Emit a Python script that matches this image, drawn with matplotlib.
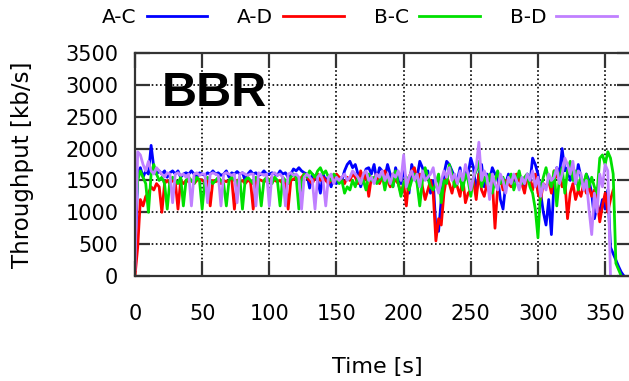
import numpy as np
import matplotlib
matplotlib.use('Agg')
import matplotlib.pyplot as plt

nan = np.nan

# time axis, one sample every 2 s
t = np.arange(0, 366, 2)

a_c = [200, 1600, 1700, 1550, 1650, 1600, 2050, 1700, 1600, 1650,
       1600, 1650, 1550, 1620, 1650, 1600, 1650, 1550, 1600, 1620,
       1600, 1650, 1600, 1550, 1620, 1600, 1580, 1620, 1600, 1650,
       1600, 1620, 1580, 1600, 1650, 1550, 1620, 1600, 1640, 1600,
       1620, 1500, 1600, 1650, 1600, 1620, 1580, 1600, 1650, 1600,
       1600, 1620, 1600, 1580, 1650, 1600, 1620, 1550, 1600, 1680,
       1650, 1700, 1650, 1620, 1600, 1380, 1600, 1550, 1500, 1300,
       1600, 1500, 1550, 1400, 1550, 1450, 1550, 1500, 1650, 1750,
       1800, 1700, 1750, 1600, 1400, 1550, 1680, 1700, 1600, 1750,
       1500, 1700, 1650, 1550, 1750, 1600, 1400, 1700, 1550, 1450,
       1650, 1500, 1300, 1750, 1600, 1550, 1800, 1700, 1550, 1650,
       1300, 1500, 750, 700, 1200, 1600, 1800, 1750, 1650, 1550,
       1500, 1700, 1400, 1650, 1600, 1850, 1700, 1300, 1600, 1750,
       1400, 1600, 1500, 1700, 1600, 1550, 1200, 1050, 1450, 1600,
       1500, 1550, 1450, 1600, 1500, 1400, 1600, 1450, 1850, 1750,
       1600, 1300, 1000, 800, 1200, 650, 1500, 1700, 1600, 2000,
       1650, 1700, 1500, 1600, 1450, 1750, 1550, 1400, 1600, 1500,
       1300, 900, 1100, 1000, 1200, 1050, 1350, 450, 350, 250,
       150, 60, 0]

a_d = [0, 450, 1200, 1100, 1250, 1300, 1400, 1350, 1450, 1400,
       1000, 1450, 1500, 1450, 1500, 1480, 1050, 1500, 1450, 1500,
       1480, 1500, 1450, 1500, 1520, 1500, 1480, 1500, 1100, 1500,
       1480, 1500, 1450, 1500, 1480, 1500, 1520, 1050, 1500, 1480,
       1500, 1450, 1500, 1480, 1050, 1500, 1520, 1500, 1480, 1500,
       1500, 1550, 1500, 1480, 1500, 1450, 1500, 1050, 1500, 1520,
       1550, 1500, 1550, 1600, 1550, 1500, 1450, 1550, 1600, 1500,
       1550, 1500, 1450, 1500, 1550, 1600, 1550, 1500, 1450, 1550,
       1500, 1600, 1550, 1450, 1650, 1500, 1600, 1250, 1550, 1500,
       1600, 1450, 1550, 1650, 1500, 1400, 1600, 1500, 1450, 1300,
       1450, 1100, 1550, 1650, 1700, 1500, 1600, 1400, 1200, 1350,
       1500, 1300, 550, 900, 800, 1300, 1550, 1450, 1300, 1500,
       1400, 1250, 1550, 1150, 1300, 1350, 1500, 1200, 1600, 1350,
       1250, 1450, 1300, 1500, 750, 1400, 1550, 1350, 1500, 1450,
       1400, 1550, 1600, 1500, 1450, 1300, 1550, 1500, 1350, 1600,
       1300, 1200, 1450, 1400, 1500, 1300, 1650, 1550, 1600, 1400,
       1500, 900, 1300, 1450, 1200, 1350, 1250, 1450, 1300, 1400,
       1250, 1350, 1200, 850, 1100, 1300, 1000, 1200, 1350, nan,
       nan, nan, nan]

b_c = [900, 1500, 1650, 1550, 1450, 1000, 1600, 1750, 1600, 1500,
       1550, 1450, 1050, 1500, 1550, 1500, 1450, 1550, 1100, 1500,
       1550, 1500, 1450, 1550, 1500, 1050, 1500, 1550, 1500, 1450,
       1500, 1550, 1500, 1450, 1100, 1500, 1550, 1500, 1450, 1550,
       1050, 1500, 1550, 1500, 1450, 1550, 1500, 1100, 1500, 1550,
       1500, 1450, 1550, 1500, 1100, 1550, 1500, 1450, 1550, 1600,
       1550, 1050, 1500, 1600, 1550, 1650, 1600, 1550, 1650, 1700,
       1600, 1650, 1550, 1500, 1600, 1550, 1450, 1500, 1300, 1400,
       1350, 1500, 1400, 1550, 1450, 1500, 1350, 1600, 1500, 1550,
       1450, 1500, 1600, 1350, 1550, 1500, 1400, 1650, 1450, 1250,
       1450, 1550, 1350, 1500, 1600, 1450, 1100, 1500, 1700, 1550,
       1400, 1350, 1450, 1600, 1150, 1500, 1450, 1750, 1600, 1400,
       1450, 1550, 1350, 1600, 1500, 1250, 1550, 1650, 1800, 1400,
       1550, 1450, 1600, 1300, 1500, 1650, 1450, 1550, 1400, 1500,
       1600, 1350, 1500, 1650, 1450, 1550, 1600, 1400, 1300, 1050,
       600, 1350, 1550, 1700, 1500, 1400, 1650, 1100, 1550, 1700,
       1300, 1650, 1800, 1500, 1650, 1350, 1550, 1450, 1600, 1400,
       1550, 1400, 1300, 1850, 1900, 1750, 1950, 1850, 1600, 200,
       100, 0, nan]

b_d = [100, 1950, 1900, 1750, 1650, 1800, 1650, 1600, 1700, 1650,
       1600, 1550, 1620, 1600, 1150, 1600, 1620, 1580, 1600, 1550,
       1600, 1100, 1600, 1620, 1580, 1600, 1600, 1150, 1600, 1620,
       1600, 1580, 1100, 1600, 1620, 1600, 1580, 1600, 1150, 1600,
       1620, 1600, 1580, 1600, 1600, 1100, 1620, 1600, 1580, 1600,
       1100, 1600, 1620, 1580, 1600, 1550, 1100, 1600, 1620, 1580,
       1600, 1550, 1050, 1550, 1600, 1550, 1500, 1050, 1550, 1600,
       1500, 1100, 1550, 1600, 1450, 1550, 1500, 1550, 1600, 1500,
       1550, 1650, 1600, 1550, 1450, 1600, 1650, 1500, 1550, 1450,
       1600, 1550, 1650, 1500, 1600, 1450, 1600, 1550, 1650, 1500,
       1900, 1400, 1550, 1650, 1500, 1600, 1400, 1650, 1500, 1550,
       1600, 1700, 1450, 1300, 1500, 1650, 1550, 1700, 1500, 1600,
       1450, 1650, 1500, 1750, 1600, 1350, 1550, 1700, 2100, 1500,
       1650, 1550, 1200, 1600, 1450, 1350, 1600, 1500, 1300, 1550,
       1450, 1600, 1500, 1350, 1550, 1450, 1600, 1500, 1650, 1400,
       1550, 1250, 1450, 1350, 1600, 1500, 1550, 1700, 1450, 1600,
       1850, 1750, 1600, 1800, 1450, 1650, 1600, 1350, 1500, 1050,
       650, 1300, 1000, 1600, 1400, 1750, 1650, 0, nan, nan,
       nan, nan, nan]

labels = ['A-C', 'A-D', 'B-C', 'B-D']
colors = ['#0000ff', '#ff0000', '#00e000', '#c080ff']

plt.rcParams['font.family'] = ['DejaVu Sans']

fig = plt.figure(figsize=(6.29, 3.81), dpi=100)
ax = fig.add_axes([135/629, 105/381, 497/629, 223/381])

for ys, lab, c in zip([a_c, a_d, b_c, b_d], labels, colors):
    ax.plot(t, ys, color=c, lw=2, label=lab)

ax.set_xlim(0, 370)
ax.set_ylim(0, 3500)
ax.set_xticks(range(0, 351, 50))
ax.set_yticks(range(0, 3501, 500))
ax.grid(True, color='black', linestyle=(0, (1, 1.5)), linewidth=1.2)
ax.tick_params(direction='in', length=11, width=1.6, color='#333333',
               top=True, right=True, labelsize=15)
ax.tick_params(axis='x', pad=20)
ax.tick_params(axis='y', pad=12)
for s in ax.spines.values():
    s.set_linewidth(1.6)
    s.set_color('#333333')

fig.text(23/629, 1 - 165/381, 'Throughput [kb/s]', rotation=90,
         ha='center', va='center', fontsize=16.5)
fig.text(377/629, 1 - 367/381, 'Time [s]', ha='center', va='center', fontsize=16)
fig.text(214/629, 1 - 93/381, 'BBR', ha='center', va='center',
         fontsize=35, fontweight='bold', family='Liberation Sans')

fig.legend(loc='upper left', bbox_to_anchor=(102/629, 1 - 8/381), ncol=4,
           frameon=False, markerfirst=False, fontsize=14.5, handlelength=3.0,
           handletextpad=0.5, columnspacing=1.5, borderpad=0, borderaxespad=0)

fig.savefig('out.png', dpi=100)
